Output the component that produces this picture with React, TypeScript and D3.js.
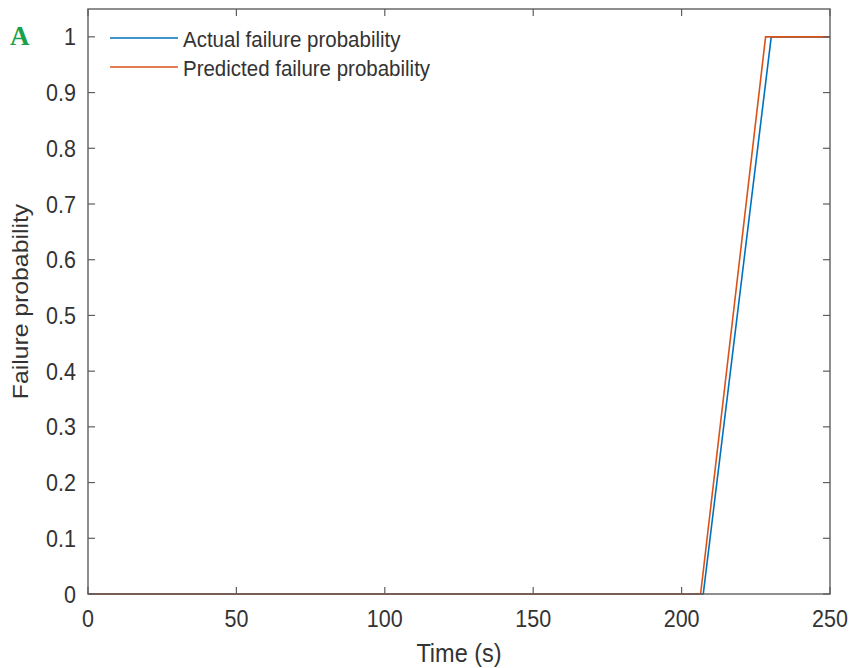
import React from "react";
import * as d3 from "d3";

const actualT = [0, 207.3, 230.2, 250];
const actualP = [0, 0, 1, 1];
const predT = [0, 206.4, 228.3, 250];
const predP = [0, 0, 1, 1];
const xTicks = [0, 50, 100, 150, 200, 250];
const yTicks = [0, 0.1, 0.2, 0.3, 0.4, 0.5, 0.6, 0.7, 0.8, 0.9, 1];
const legendLabels = ["Actual failure probability", "Predicted failure probability"];
const colors = ["#0072BD", "#D95319"];

export default function App() {
  const W = 854, H = 668;
  const L = 88, R = 830, T = 9, B = 594;
  const x = d3.scaleLinear().domain([0, 250]).range([L, R]);
  const y = d3.scaleLinear().domain([0, 1.05]).range([B, T]);
  const line = d3.line<[number, number]>().x(d => x(d[0])).y(d => y(d[1]));
  const series = [
    actualT.map((t, i) => [t, actualP[i]] as [number, number]),
    predT.map((t, i) => [t, predP[i]] as [number, number]),
  ];
  const axisColor = "#5e5e5e";
  const textColor = "#333";
  const font = "'Liberation Sans', Arial, sans-serif";
  const tl = 7;
  const sy = 1.1;
  return (
    <svg width={W} height={H} style={{ position: "absolute", left: 0, top: 0 }}>
      <rect width={W} height={H} fill="#fff" />
      {series.map((s, i) => (
        <path key={i} d={line(s) || ""} fill="none" stroke={colors[i]} strokeWidth={1.6} />
      ))}
      <rect x={L} y={T} width={R - L} height={B - T} fill="none" stroke={axisColor} strokeWidth={1.4} />
      {xTicks.map(t => (
        <g key={"x" + t}>
          <line x1={x(t)} x2={x(t)} y1={B} y2={B - tl} stroke={axisColor} strokeWidth={1.2} />
          <line x1={x(t)} x2={x(t)} y1={T} y2={T + tl} stroke={axisColor} strokeWidth={1.2} />
          <text transform={`translate(${x(t)},627) scale(1,${sy})`} textAnchor="middle" fontFamily={font} fontSize={21.5} fill={textColor}>{t}</text>
        </g>
      ))}
      {yTicks.map(t => (
        <g key={"y" + t}>
          <line x1={L} x2={L + tl} y1={y(t)} y2={y(t)} stroke={axisColor} strokeWidth={1.2} />
          <line x1={R} x2={R - tl} y1={y(t)} y2={y(t)} stroke={axisColor} strokeWidth={1.2} />
          <text transform={`translate(76,${y(t) + 8.5}) scale(1,${sy})`} textAnchor="end" fontFamily={font} fontSize={21.5} fill={textColor}>{String(t)}</text>
        </g>
      ))}
      <text transform={`translate(${(L + R) / 2},662) scale(1,${sy})`} textAnchor="middle" fontFamily={font} fontSize={23.5} fill={textColor}>Time (s)</text>
      <text transform={`translate(28, ${(T + B) / 2}) rotate(-90) scale(${sy},1)`} textAnchor="middle" fontFamily={font} fontSize={22.5} fill={textColor}>Failure probability</text>
      {legendLabels.map((lab, i) => (
        <g key={lab}>
          <line x1={110} x2={178} y1={38 + i * 29} y2={38 + i * 29} stroke={colors[i]} strokeWidth={1.6} />
          <text transform={`translate(183,${46.5 + i * 29}) scale(1,${sy})`} fontFamily={font} fontSize={20.5} fill={textColor}>{lab}</text>
        </g>
      ))}
      <text x={10} y={45} fontFamily="'Liberation Serif', 'Times New Roman', serif" fontWeight="bold" fontSize={27} fill="#1aa04a">A</text>
    </svg>
  );
}
